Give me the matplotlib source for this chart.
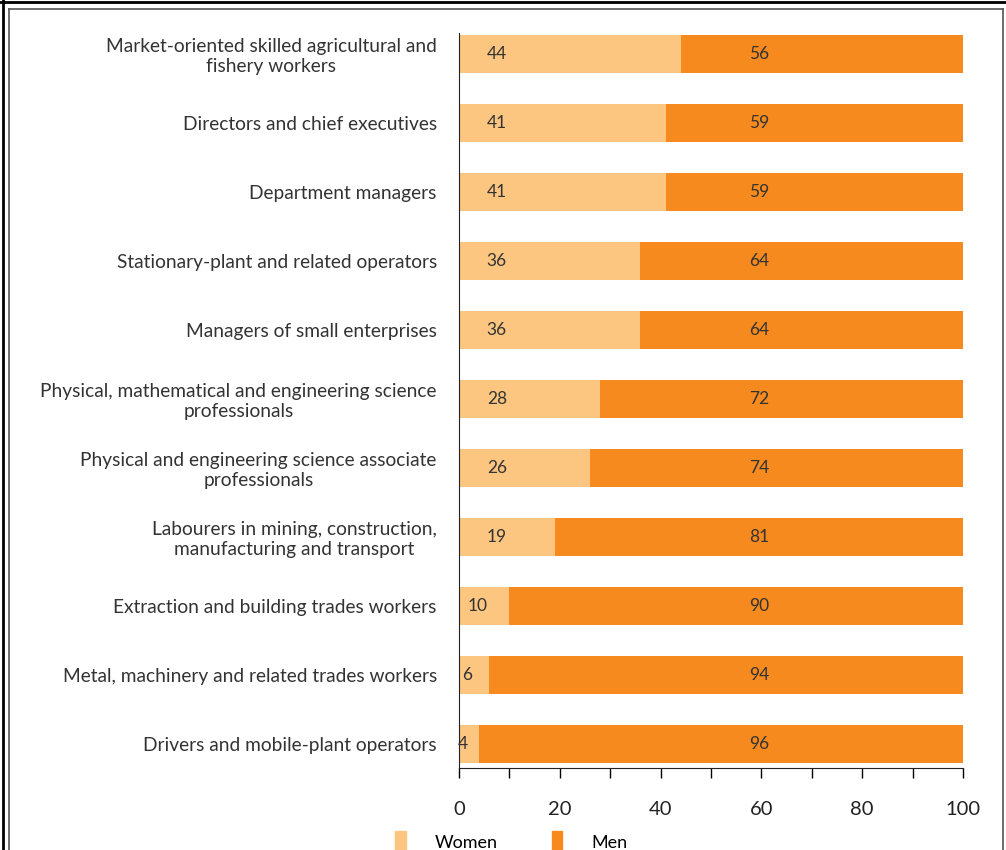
import matplotlib
matplotlib.use("Agg")
import matplotlib.pyplot as plt
from matplotlib.lines import Line2D
from matplotlib.patches import Patch

plt.rcParams['font.family'] = ['Lato', 'DejaVu Sans']

categories = [
    "Market-oriented skilled agricultural and\nfishery workers",
    "Directors and chief executives",
    "Department managers",
    "Stationary-plant and related operators",
    "Managers of small enterprises",
    "Physical, mathematical and engineering science\nprofessionals",
    "Physical and engineering science associate\nprofessionals",
    "Labourers in mining, construction,\nmanufacturing and transport",
    "Extraction and building trades workers",
    "Metal, machinery and related trades workers",
    "Drivers and mobile-plant operators",
]
women = [44, 41, 41, 36, 36, 28, 26, 19, 10, 6, 4]
men = [56, 59, 59, 64, 64, 72, 74, 81, 90, 94, 96]

c_women = "#FCC681"
c_men = "#F68A1E"

fig = plt.figure(figsize=(10.06, 8.5), dpi=100)
ax = fig.add_axes([0.4563, 0.0965, 0.5010, 0.8647])

ypos = list(range(len(categories)))
ax.barh(ypos, women, height=0.55, color=c_women)
ax.barh(ypos, men, left=women, height=0.55, color=c_men)

for y, w, m in zip(ypos, women, men):
    ax.text(min(7.5, w / 2 - 1.3), y, str(w), ha='center', va='center',
            fontsize=12.5, color='#333333')
    ax.text(59.5, y, str(m), ha='center', va='center', fontsize=12.5, color='#333333')

ax.set_xlim(0, 100)
ax.set_ylim(10.35, -0.3)
ax.set_yticks(ypos)
ax.set_yticklabels(categories, fontsize=13.8, color='#333333', multialignment='center')
ax.tick_params(axis='y', length=0, pad=16)
ax.set_xticks(range(0, 101, 10))
ax.set_xticklabels([str(v) if v % 20 == 0 else "" for v in range(0, 101, 10)],
                   fontsize=14.5, color='#222222')
ax.tick_params(axis='x', length=7, width=1, pad=17, direction='out')
for s in ['top', 'right']:
    ax.spines[s].set_visible(False)
ax.spines['left'].set_color('#222222')
ax.spines['bottom'].set_color('#222222')

handles = [Patch(color=c_women, label="Women"), Patch(color=c_men, label="Men")]
fig.legend(handles=handles, loc='center', bbox_to_anchor=(0.508, 0.009), ncol=2,
           frameon=False, fontsize=13, handlelength=0.6, handleheight=1.6,
           columnspacing=3.0, handletextpad=1.6)

# double frame round the picture
fig.add_artist(Line2D([0, 1], [0.9975, 0.9975], transform=fig.transFigure, color='black', lw=2))
fig.add_artist(Line2D([0.003, 0.003], [0, 1], transform=fig.transFigure, color='black', lw=2))
fig.add_artist(Line2D([0.009, 0.997], [0.989, 0.989], transform=fig.transFigure, color='#555555', lw=1.2))
fig.add_artist(Line2D([0.009, 0.009], [0, 0.989], transform=fig.transFigure, color='#555555', lw=1.2))
fig.add_artist(Line2D([0.997, 0.997], [0, 0.989], transform=fig.transFigure, color='#555555', lw=1.2))

fig.savefig("out.png", dpi=100)
